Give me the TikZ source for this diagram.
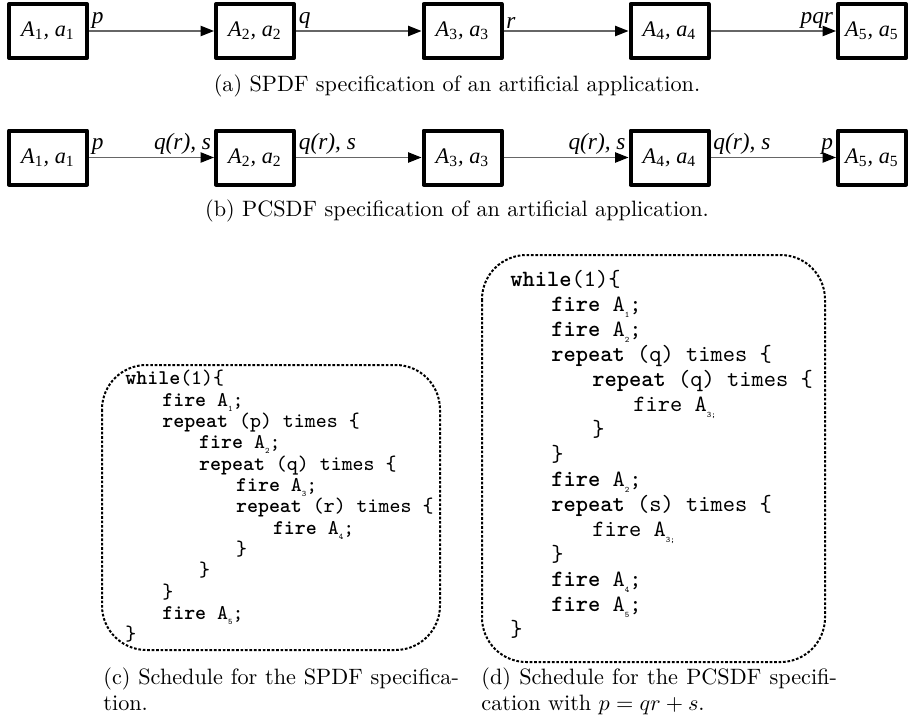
\documentclass[tikz,border=0pt]{standalone}
\usepackage{fontspec}
\newfontfamily\tms{Liberation Serif}
\usetikzlibrary{arrows.meta}
\newdimen\indw
\newcommand\I{\hspace*{\indw}}
\newcommand\kw[1]{\textbf{#1}}
\newcommand\sbs[1]{\raisebox{-.55ex}{\fontsize{3.8}{4}\selectfont#1}}
\newcommand\act[1]{{\tms\itshape A\textsubscript{\upshape#1}, a\textsubscript{\upshape#1}}}
\begin{document}
\begin{tikzpicture}[x=.45pt,y=-.45pt,line join=round,>={Triangle[length=6pt,width=4.6pt,color=black]},
	actor/.style={draw,line width=1.8pt,minimum width=35.1pt,minimum height=24.3pt,inner sep=0pt,font=\fontsize{10}{12}\selectfont},
	chan/.style={->,line width=.65pt,draw=black!60},
	lbl/.style={inner sep=1pt,font=\tms\itshape\fontsize{10.5}{12}\selectfont},
	codebox/.style={line width=.9pt,dash pattern=on 1.2pt off .8pt,rounded corners=20pt},
	code/.style={anchor=north west,inner sep=0pt,align=left},
	subcap/.style={inner sep=0pt,font=\normalsize}]
	\useasboundingbox (0,0) rectangle (915,715);
	\foreach \i/\x in {1/48,2/255,3/462.5,4/669.5}{
		\node[actor] (a\i) at (\x,31) {\act{\i}};
		\node[actor] (b\i) at (\x,157.5) {\act{\i}};
	}
	\node[actor,minimum width=30.6pt] (a5) at (872,31) {\act{5}};
	\node[actor,minimum width=30.6pt] (b5) at (872,157.5) {\act{5}};
	\draw[chan] (a1) -- node[lbl,pos=0,above right]{p} (a2);
	\draw[chan] (a2) -- node[lbl,pos=0,above right]{q} (a3);
	\draw[chan] (a3) -- node[lbl,pos=0,above right]{r} (a4);
	\draw[chan] (a4) -- node[lbl,pos=1,above left]{pqr} (a5);
	\draw[chan] (b1) -- node[lbl,pos=0,above right]{p} node[lbl,pos=1,above left]{q(r), s} (b2);
	\draw[chan] (b2) -- node[lbl,pos=0,above right]{q(r), s} (b3);
	\draw[chan] (b3) -- node[lbl,pos=1,above left]{q(r), s} (b4);
	\draw[chan] (b4) -- node[lbl,pos=0,above right]{q(r), s} node[lbl,pos=1,above left]{p} (b5);
	\node[subcap] (capa) at (457,86) {(a) SPDF specification of an artificial application.};
	\node[subcap] (capb) at (457,211) {(b) PCSDF specification of an artificial application.};
	\draw[codebox] (102,365) rectangle (440,650);
	\draw[codebox] (482,255) rectangle (825,662);
	\node[code,font=\ttfamily\fontsize{9.4}{9.6}\selectfont] (spdf) at (125,370) {\global\indw=16.6pt
		\kw{while}(1)\{\\
		\I\kw{fire} A\sbs1;\\
		\I\kw{repeat} (p) times \{\\
		\I\I\kw{fire} A\sbs2;\\
		\I\I\kw{repeat} (q) times \{\\
		\I\I\I\kw{fire} A\sbs3;\\
		\I\I\I\kw{repeat} (r) times \{\\
		\I\I\I\I\kw{fire} A\sbs4;\\
		\I\I\I\}\\
		\I\I\}\\
		\I\}\\
		\I\kw{fire} A\sbs5;\\
		\}};
	\node[code,font=\ttfamily\fontsize{10.5}{11.25}\selectfont] (pcsdf) at (510,270) {\global\indw=18.45pt
		\kw{while}(1)\{\\
		\I\kw{fire} A\sbs1;\\
		\I\kw{fire} A\sbs2;\\
		\I\kw{repeat} (q) times \{\\
		\I\I\kw{repeat} (q) times \{\\
		\I\I\I fire A\sbs{3;}\\
		\I\I\}\\
		\I\}\\
		\I\kw{fire} A\sbs2;\\
		\I\kw{repeat} (s) times \{\\
		\I\I fire A\sbs{3;}\\
		\I\}\\
		\I\kw{fire} A\sbs4;\\
		\I\kw{fire} A\sbs5;\\
		\}};
	\node[subcap,anchor=north west,text width=160pt,align=justify] (capc) at (103,667) {(c) Schedule for the SPDF specifica-\linebreak tion.};
	\node[subcap,anchor=north west,text width=160pt,align=justify] (capd) at (481,667) {(d) Schedule for the PCSDF specifi-\linebreak cation with $p=qr+s$.};
\end{tikzpicture}
\end{document}
